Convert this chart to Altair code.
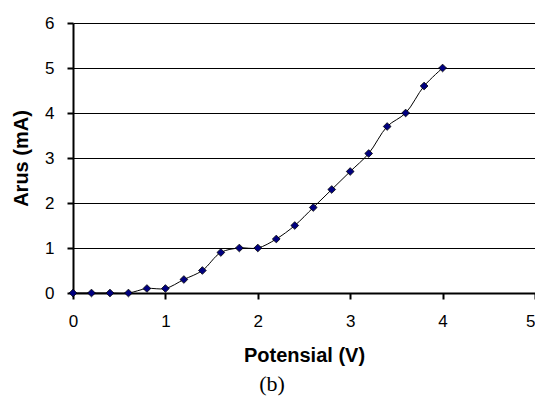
import altair as alt
import pandas as pd

potensial = [0.0, 0.2, 0.4, 0.6, 0.8, 1.0, 1.2, 1.4, 1.6, 1.8, 2.0,
             2.2, 2.4, 2.6, 2.8, 3.0, 3.2, 3.4, 3.6, 3.8, 4.0]
arus = [0, 0, 0, 0, 0.1, 0.1, 0.3, 0.5, 0.9, 1.0, 1.0,
        1.2, 1.5, 1.9, 2.3, 2.7, 3.1, 3.7, 4.0, 4.6, 5.0]
x_ticks = [0, 1, 2, 3, 4, 5]
y_ticks = [0, 1, 2, 3, 4, 5, 6]

df = pd.DataFrame({"Potensial": potensial, "Arus": arus})

axis_style = dict(
    labelFont="Liberation Sans", labelFontSize=17, labelColor="black",
    titleFont="Liberation Sans", titleFontSize=20, titleFontWeight="bold", titleColor="black",
    domainColor="black", domainWidth=2, tickColor="black", tickWidth=2, tickSize=6,
    gridColor="black", gridWidth=1, gridOpacity=1,
    format="d", labelFlush=False, labelOverlap=False,
)

x_enc = alt.X("Potensial:Q",
              scale=alt.Scale(domain=[0, 5], nice=False, zero=False),
              axis=alt.Axis(title="Potensial (V)", values=x_ticks, grid=False,
                            titlePadding=16, labelPadding=14,
                            labelAlign={"condition": {"test": "datum.value == 5", "value": "right"},
                                        "value": "center"},
                            **axis_style))
y_enc = alt.Y("Arus:Q",
              scale=alt.Scale(domain=[0, 6], nice=False),
              axis=alt.Axis(title="Arus (mA)", values=y_ticks, grid=True,
                            titlePadding=13, labelPadding=13, **axis_style))

base = alt.Chart(df)
line = base.mark_line(color="black", strokeWidth=1, interpolate="catmull-rom").encode(x=x_enc, y=y_enc)
pts = base.mark_point(shape="diamond", filled=True, fill="#000080", stroke="black",
                      strokeWidth=0.8, size=60, opacity=1).encode(x=x_enc, y=y_enc)

chart = (line + pts).properties(
    width=462, height=270,
    autosize="none",
    background="white",
    padding={"left": 65, "top": 15, "right": 0, "bottom": 104},
    title=alt.TitleParams(text="(b)", orient="bottom", anchor="middle",
                          font="Liberation Serif", fontSize=22, fontWeight="normal",
                          color="black", dx=-32, offset=9),
).configure_view(stroke=None)

chart.save("out.html", embed_options={"renderer": "svg", "actions": False})
